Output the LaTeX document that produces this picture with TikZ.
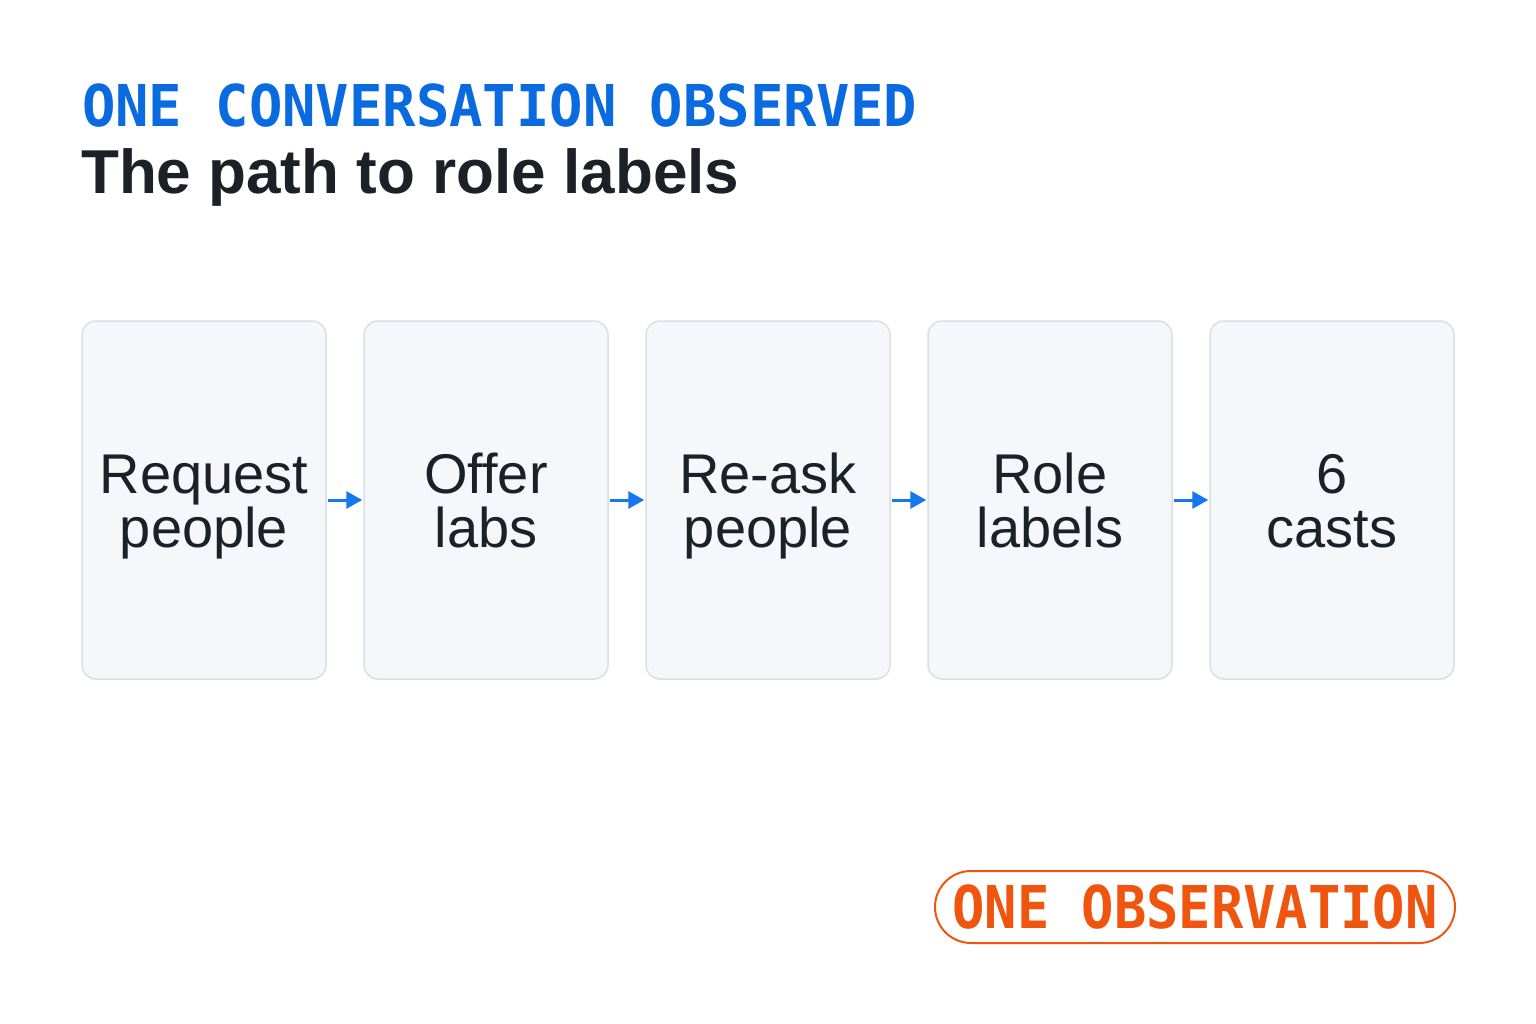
\documentclass[tikz,border=0pt]{standalone}
\usepackage{fontspec}
\usepackage{graphicx}
\setmainfont{Liberation Sans}
\newfontfamily\monof{DejaVu Sans Mono}
\usetikzlibrary{arrows.meta}
\definecolor{titleblue}{HTML}{0A6AE0}
\definecolor{inkdark}{HTML}{1C2128}
\definecolor{boxfill}{HTML}{F5F7FB}
\definecolor{boxline}{HTML}{DADFE6}
\definecolor{arrowblue}{HTML}{1677F0}
\definecolor{badgeorange}{HTML}{F0550F}
\newcommand\topst{\rule{0pt}{54pt}}
\newcommand\botst{\rule[-14pt]{0pt}{14pt}}
\tikzset{
  stepbox/.style={draw=boxline, line width=1.5pt, fill=boxfill, rounded corners=14pt,
    minimum width=244pt, minimum height=358pt, inner sep=0pt, align=center,
    text=inkdark, font=\fontsize{56}{54}\selectfont},
  flowarrow/.style={draw=arrowblue, line width=3pt, -{Triangle[length=16pt,width=17pt]}, shorten >=1pt, shorten <=1pt},
}
\begin{document}
\begin{tikzpicture}[x=1pt,y=-1pt]
\useasboundingbox[fill=white] (0,0) rectangle (1536,1024);
\node[anchor=base west, inner sep=0pt, text=titleblue] (kicker) at (82,127)
  {\scalebox{0.963}[1]{\fontsize{57.6}{60}\selectfont\monof\bfseries ONE CONVERSATION OBSERVED}};
\node[anchor=base west, inner sep=0pt, text=inkdark] (headline) at (81,194)
  {\fontsize{62}{64}\selectfont\bfseries The path to role labels};
\node[stepbox] (b1) at (204,500) {\topst Request\\people\botst};
\node[stepbox] (b2) at (486,500) {\topst Offer\\labs\botst};
\node[stepbox] (b3) at (768,500) {\topst Re-ask\\people\botst};
\node[stepbox] (b4) at (1050,500) {\topst Role\\labels\botst};
\node[stepbox] (b5) at (1332,500) {\topst 6\\casts\botst};
\draw[flowarrow] (b1.east) -- (b2.west);
\draw[flowarrow] (b2.east) -- (b3.west);
\draw[flowarrow] (b3.east) -- (b4.west);
\draw[flowarrow] (b4.east) -- (b5.west);
\node[draw=badgeorange, line width=2pt, rounded corners=36pt, minimum width=520pt, minimum height=72pt,
  inner sep=0pt, text=badgeorange] (badge) at (1195,907)
  {\scalebox{0.911}[1]{\fontsize{59}{60}\selectfont\monof\bfseries ONE OBSERVATION}};
\end{tikzpicture}
\end{document}
